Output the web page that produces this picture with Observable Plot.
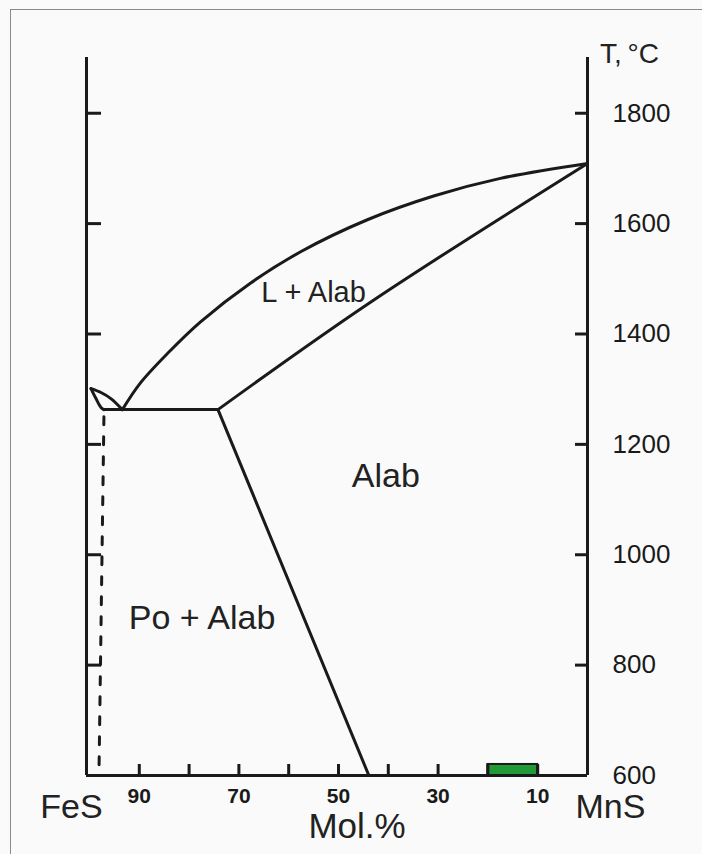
<!DOCTYPE html>
<html><head><meta charset="utf-8">
<script src="https://cdn.jsdelivr.net/npm/d3@7"></script>
<script src="https://cdn.jsdelivr.net/npm/@observablehq/plot@0.6"></script>
<style>
html,body{margin:0;padding:0;background:#fafafa;}
#wrap{position:relative;width:702px;height:854px;overflow:hidden;background:#fafafa;}
#border{position:absolute;left:10px;top:9px;width:720px;height:880px;border-left:1.5px solid #8a8a8a;border-top:1.5px solid #8a8a8a;}
#wrap svg{position:absolute;left:0;top:0;}
</style></head><body><div id="wrap"><div id="border"></div></div>
<script>
// Composition axis: mol.% FeS (100 = FeS at left, 0 = MnS at right)
const X_DOMAIN = [100.6, 0];
const T_DOMAIN = [600, 1901];

const xTicks = [90, 80, 70, 60, 50, 40, 30, 20, 10];
const xTickLabels = [90, 70, 50, 30, 10];
const tTicks = [800, 1000, 1200, 1400, 1600, 1800];
const tTickLabels = [600, 800, 1000, 1200, 1400, 1600, 1800];

// Liquidus (upper curve)
const liquidusX = [0, 17.5, 30.9, 44.2, 57.6, 67.7, 77.7, 84.3, 89.8, 93.4];
const liquidusT = [1709, 1682, 1650, 1607, 1549, 1492, 1422, 1365, 1311, 1263];
// Solidus of alabandite (lower line)
const solidusX = [0, 43.5, 74.2];
const solidusT = [1709, 1458, 1263];
// Eutectic horizontal
const eutecticX = [97.1, 74.2];
const eutecticT = [1263, 1263];
// Small lens near FeS
const lensUpperX = [99.7, 97.7, 95.7, 93.4];
const lensUpperT = [1301, 1294, 1283, 1263];
const lensLowerX = [99.7, 98.7, 97.7, 97.1];
const lensLowerT = [1301, 1283, 1267, 1263];
// Solvus
const solvusX = [74.2, 43.9];
const solvusT = [1263, 600];
// Dotted line
const dottedX = [97.1, 98.1];
const dottedT = [1250, 600];
// Green bar
const barX = [20, 10];
const barT = [600, 620];

const regionLabels = ["L + Alab", "Alab", "Po + Alab"];
const regionX = [55, 40.5, 77.4];
const regionT = [1475, 1142, 886];
const regionSize = [29, 34, 34];

const toPts = (xs, ts, id) => xs.map((x, i) => ({x, t: ts[i], id}));
const smooth = [
  ...toPts(liquidusX, liquidusT, "liq"),
  ...toPts(solidusX, solidusT, "sol"),
  ...toPts(lensUpperX, lensUpperT, "lu"),
  ...toPts(lensLowerX, lensLowerT, "ll")
];
const straight = [
  ...toPts(eutecticX, eutecticT, "eu"),
  ...toPts(solvusX, solvusT, "sv")
];
const dotted = toPts(dottedX, dottedT, "dot");
const bar = [{x1: barX[0], x2: barX[1], y1: barT[0], y2: barT[1]}];
const labels = regionLabels.map((s, i) => ({s, x: regionX[i], t: regionT[i], size: regionSize[i]}));

const INK = "#1a1a1a";
const chart = Plot.plot({
  width: 702, height: 854,
  marginLeft: 86, marginRight: 115, marginTop: 57, marginBottom: 79,
  x: {domain: X_DOMAIN, axis: null},
  y: {domain: T_DOMAIN, axis: null},
  style: {background: "transparent", color: INK, fontFamily: "'Liberation Sans', Arial, Helvetica, sans-serif"},
  marks: [
    Plot.rect(bar, {x1: "x1", x2: "x2", y1: "y1", y2: "y2", fill: "#1f9a37", stroke: INK, strokeWidth: 2}),
    Plot.ruleX([X_DOMAIN[0], X_DOMAIN[1]], {stroke: INK, strokeWidth: 3}),
    Plot.ruleY([T_DOMAIN[0]], {stroke: INK, strokeWidth: 3}),
    Plot.axisY(tTicks, {anchor: "left", tickSize: 15, dx: 15, tickFormat: () => "", strokeWidth: 3, stroke: INK, label: null}),
    Plot.axisY(tTicks, {anchor: "right", tickSize: 13, dx: -13, tickFormat: () => "", strokeWidth: 3, stroke: INK, label: null}),
    Plot.axisX(xTicks, {anchor: "bottom", tickSize: 11, dy: -11, tickFormat: () => "", strokeWidth: 3, stroke: INK, label: null}),
    Plot.axisY(tTickLabels, {anchor: "right", tickSize: 0, tickPadding: 25, tickFormat: d => String(d), fontSize: 26, label: null}),
    Plot.axisX(xTickLabels, {anchor: "bottom", tickSize: 0, tickPadding: 13, tickFormat: d => String(d), fontSize: 21, fontWeight: "bold", label: null}),
    Plot.line(smooth, {x: "x", y: "t", z: "id", stroke: INK, strokeWidth: 3, curve: "catmull-rom"}),
    Plot.line(straight, {x: "x", y: "t", z: "id", stroke: INK, strokeWidth: 3}),
    Plot.line(dotted, {x: "x", y: "t", stroke: INK, strokeWidth: 3, strokeDasharray: "8,12"}),
    Plot.text(labels, {x: "x", y: "t", text: "s", fontSize: "size", fill: "#222"}),
    Plot.text(["FeS"], {frameAnchor: "bottom-left", textAnchor: "middle", dx: -15, dy: 42, fontSize: 34, fill: "#222"}),
    Plot.text(["MnS"], {frameAnchor: "bottom-right", textAnchor: "middle", dx: 23, dy: 42, fontSize: 34, fill: "#222"}),
    Plot.text(["Mol.%"], {frameAnchor: "bottom", textAnchor: "middle", dx: 20, dy: 62, fontSize: 35, fill: "#222"}),
    Plot.text(["T,\u2009°C"], {frameAnchor: "top-right", textAnchor: "middle", dx: 42, dy: -14, fontSize: 28, fill: "#222"})
  ]
});
document.getElementById("wrap").appendChild(chart);
</script>
</body></html>
